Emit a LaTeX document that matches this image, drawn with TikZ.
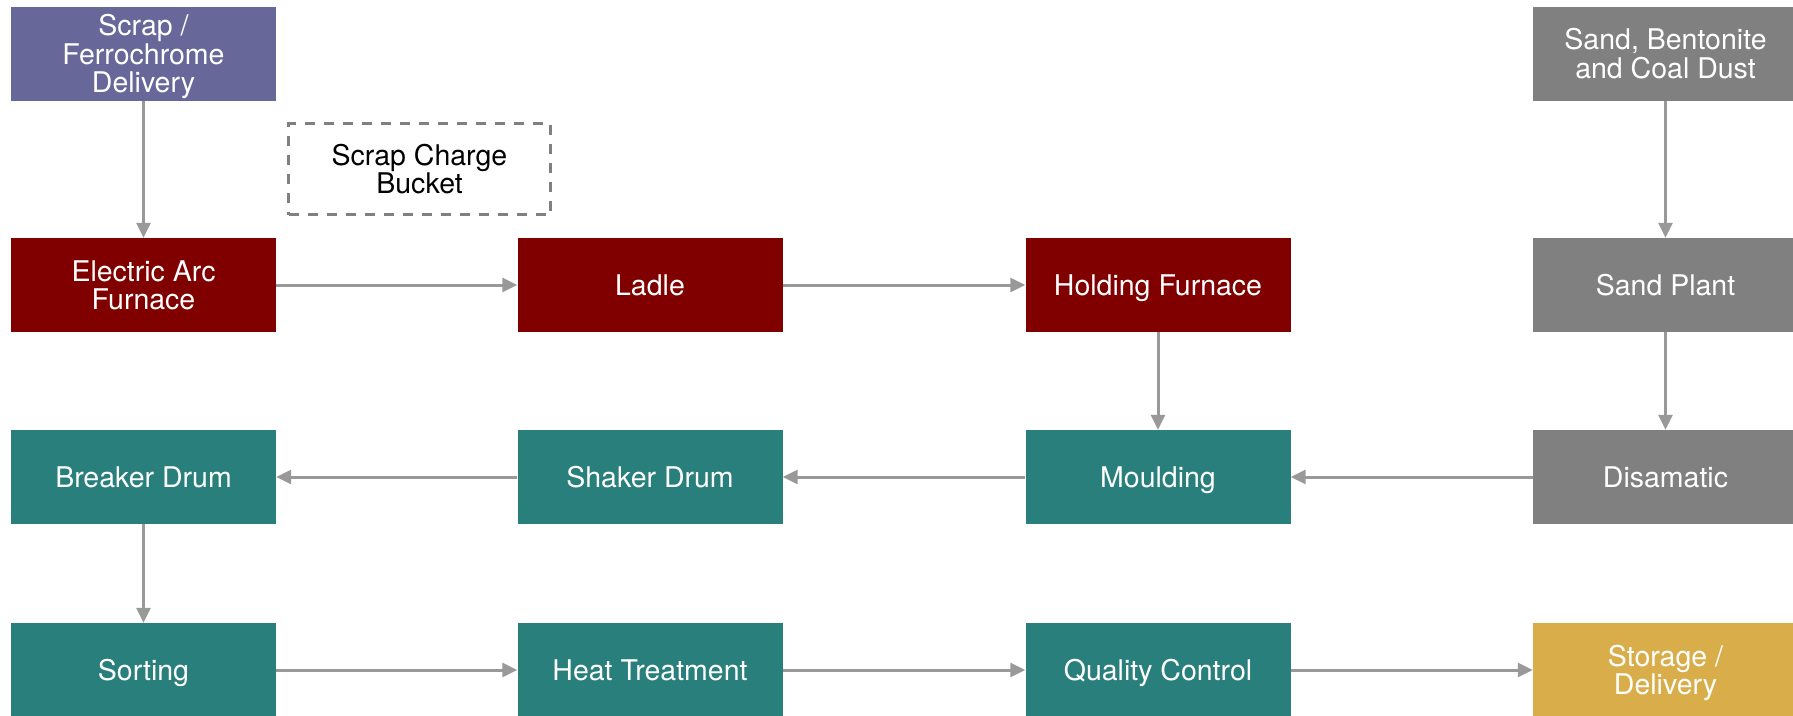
\documentclass[tikz,border=0pt]{standalone}
\usepackage{fontspec}
\setmainfont{TeX Gyre Heros}
\usetikzlibrary{arrows.meta}
\definecolor{cpurple}{HTML}{67679A}
\definecolor{cred}{HTML}{800000}
\definecolor{cteal}{HTML}{287F7C}
\definecolor{cgray}{HTML}{808080}
\definecolor{cgold}{HTML}{D9AE4A}
\definecolor{carrow}{HTML}{999999}
\begin{document}
\begin{tikzpicture}[x=1pt,y=-1pt,
  box/.style={minimum width=265pt,minimum height=94pt,inner sep=0pt,align=center,
    text depth=0pt,text=white,font=\fontsize{28.5}{28.5}\selectfont},
  purplebox/.style={box,fill=cpurple},
  redbox/.style={box,fill=cred},
  tealbox/.style={box,fill=cteal},
  graybox/.style={box,fill=cgray},
  goldbox/.style={box,fill=cgold},
  dashbox/.style={box,text=black,draw=cgray,line width=3pt,dash pattern=on 10pt off 9pt},
  flow/.style={draw=carrow,line width=3pt,-{Triangle[length=15pt,width=14pt]}}]
\useasboundingbox (0,0) rectangle (1793,715);
\node[purplebox] (scrap) at (143.5,53.5) {Scrap /\\Ferrochrome\\Delivery};
\node[dashbox,minimum width=262pt,minimum height=91pt] (bucket) at (419.5,169) {Scrap Charge\\Bucket};
\node[graybox] (sand) at (1665.5,53.5) {Sand, Bentonite\\and Coal Dust};
\node[redbox] (eaf) at (143.5,285) {Electric Arc\\Furnace};
\node[redbox] (ladle) at (650,285) {Ladle};
\node[redbox] (hold) at (1158,285) {Holding Furnace};
\node[graybox] (plant) at (1665.5,285) {Sand Plant};
\node[tealbox] (breaker) at (143.5,477) {Breaker Drum};
\node[tealbox] (shaker) at (650,477) {Shaker Drum};
\node[tealbox] (mould) at (1158,477) {Moulding};
\node[graybox] (disa) at (1665.5,477) {Disamatic};
\node[tealbox] (sort) at (143.5,670) {Sorting};
\node[tealbox] (heat) at (650,670) {Heat Treatment};
\node[tealbox] (qc) at (1158,670) {Quality Control};
\node[goldbox] (store) at (1665.5,670) {Storage /\\Delivery};
\draw[flow] (scrap) -- (eaf);
\draw[flow] (eaf) -- (ladle);
\draw[flow] (ladle) -- (hold);
\draw[flow] (hold) -- (mould);
\draw[flow] (sand) -- (plant);
\draw[flow] (plant) -- (disa);
\draw[flow] (disa) -- (mould);
\draw[flow] (mould) -- (shaker);
\draw[flow] (shaker) -- (breaker);
\draw[flow] (breaker) -- (sort);
\draw[flow] (sort) -- (heat);
\draw[flow] (heat) -- (qc);
\draw[flow] (qc) -- (store);
\end{tikzpicture}
\end{document}
